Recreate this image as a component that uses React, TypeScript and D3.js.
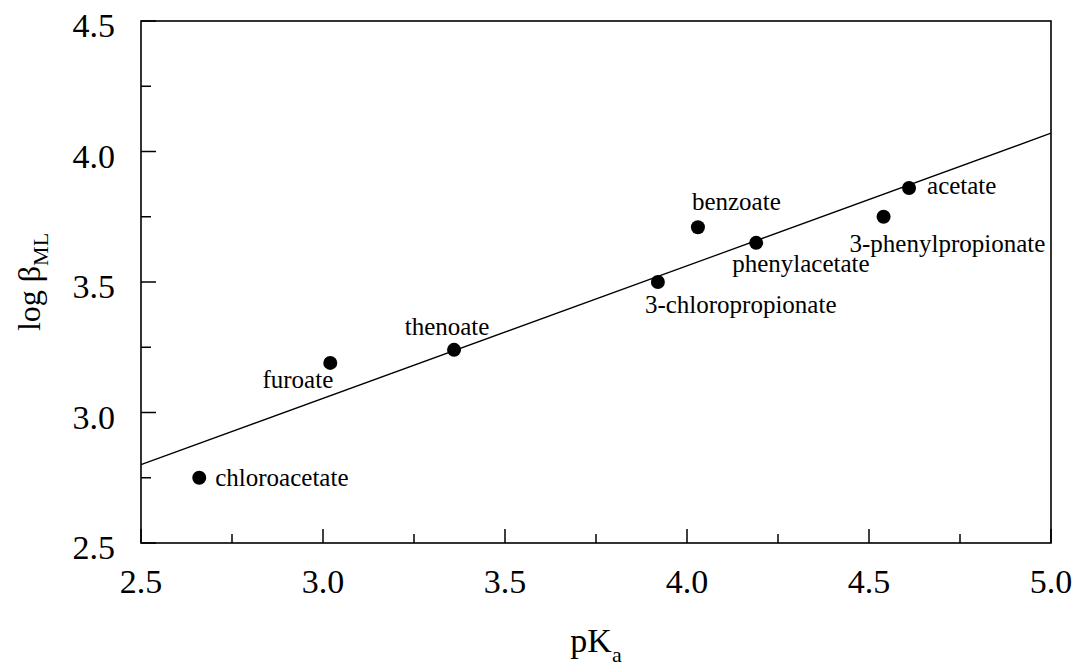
import React from "react";
import * as d3 from "d3";

const compounds = [
  "chloroacetate",
  "furoate",
  "thenoate",
  "3-chloropropionate",
  "benzoate",
  "phenylacetate",
  "3-phenylpropionate",
  "acetate",
];
const pKa = [2.66, 3.02, 3.36, 3.92, 4.03, 4.19, 4.54, 4.61];
const logBeta = [2.75, 3.19, 3.24, 3.5, 3.71, 3.65, 3.75, 3.86];

const fitX = [2.5, 5.0];
const fitY = [2.8, 4.07];

const xMajorTicks = [2.5, 3.0, 3.5, 4.0, 4.5, 5.0];
const xMinorTicks = [2.75, 3.25, 3.75, 4.25, 4.75];
const yMajorTicks = [2.5, 3.0, 3.5, 4.0, 4.5];
const yMinorTicks = [2.75, 3.25, 3.75, 4.25];

// label placement (style, not data)
const labelPlacement: Record<string, { dx: number; dy: number; anchor: string }> = {
  chloroacetate: { dx: 16, dy: 8, anchor: "start" },
  furoate: { dx: 3, dy: 25, anchor: "end" },
  thenoate: { dx: -7, dy: -15, anchor: "middle" },
  "3-chloropropionate": { dx: -13, dy: 31, anchor: "start" },
  benzoate: { dx: -6, dy: -17, anchor: "start" },
  phenylacetate: { dx: -24, dy: 29, anchor: "start" },
  "3-phenylpropionate": { dx: -34, dy: 35, anchor: "start" },
  acetate: { dx: 18, dy: 6, anchor: "start" },
};

const W = 1079;
const H = 667;
const left = 141;
const right = 1051;
const top = 21;
const bottom = 543;
const FONT = "'Liberation Serif', 'Times New Roman', serif";

export default function App() {
  const x = d3.scaleLinear().domain([2.5, 5.0]).range([left, right]);
  const y = d3.scaleLinear().domain([2.5, 4.5]).range([bottom, top]);
  const line = d3
    .line<number>()
    .x((_, i) => x(fitX[i]))
    .y((d) => y(d));
  const fmt = d3.format(".1f");

  return (
    <svg
      width={W}
      height={H}
      style={{ position: "absolute", left: 0, top: 0, background: "#fff" }}
      fontFamily={FONT}
    >
      <rect x={0} y={0} width={W} height={H} fill="#fff" />
      {/* fit line */}
      <path d={line(fitY) || ""} fill="none" stroke="#000" strokeWidth={1.3} />
      {/* frame */}
      <rect
        x={left}
        y={top}
        width={right - left}
        height={bottom - top}
        fill="none"
        stroke="#000"
        strokeWidth={1.6}
      />
      {/* x ticks */}
      {xMajorTicks.map((t) => (
        <g key={"xM" + t}>
          <line x1={x(t)} x2={x(t)} y1={bottom} y2={bottom - 14} stroke="#000" strokeWidth={1.5} />
          <text x={x(t)} y={bottom + 50} textAnchor="middle" fontSize={34}>
            {fmt(t)}
          </text>
        </g>
      ))}
      {xMinorTicks.map((t) => (
        <line key={"xm" + t} x1={x(t)} x2={x(t)} y1={bottom} y2={bottom - 9} stroke="#000" strokeWidth={1.5} />
      ))}
      {/* y ticks */}
      {yMajorTicks.map((t) => (
        <g key={"yM" + t}>
          <line x1={left} x2={left + 15} y1={y(t)} y2={y(t)} stroke="#000" strokeWidth={1.5} />
          <text x={left - 26} y={y(t) + 16} textAnchor="end" fontSize={34}>
            {fmt(t)}
          </text>
        </g>
      ))}
      {yMinorTicks.map((t) => (
        <line key={"ym" + t} x1={left} x2={left + 10} y1={y(t)} y2={y(t)} stroke="#000" strokeWidth={1.5} />
      ))}
      {/* points */}
      {compounds.map((c, i) => (
        <circle key={"p" + c} cx={x(pKa[i])} cy={y(logBeta[i])} r={7} fill="#000" />
      ))}
      {/* labels */}
      {compounds.map((c, i) => {
        const p = labelPlacement[c];
        return (
          <text
            key={"l" + c}
            x={x(pKa[i]) + p.dx}
            y={y(logBeta[i]) + p.dy}
            textAnchor={p.anchor as any}
            fontSize={25}
          >
            {c}
          </text>
        );
      })}
      {/* x title */}
      <text x={(left + right) / 2} y={652} textAnchor="middle" fontSize={34}>
        pK
        <tspan fontSize={22} dy={10}>
          a
        </tspan>
      </text>
      {/* y title */}
      <text
        transform={`translate(40, ${(top + bottom) / 2}) rotate(-90)`}
        textAnchor="middle"
        fontSize={32}
      >
        log β
        <tspan fontSize={22} dy={8}>
          ML
        </tspan>
      </text>
    </svg>
  );
}
